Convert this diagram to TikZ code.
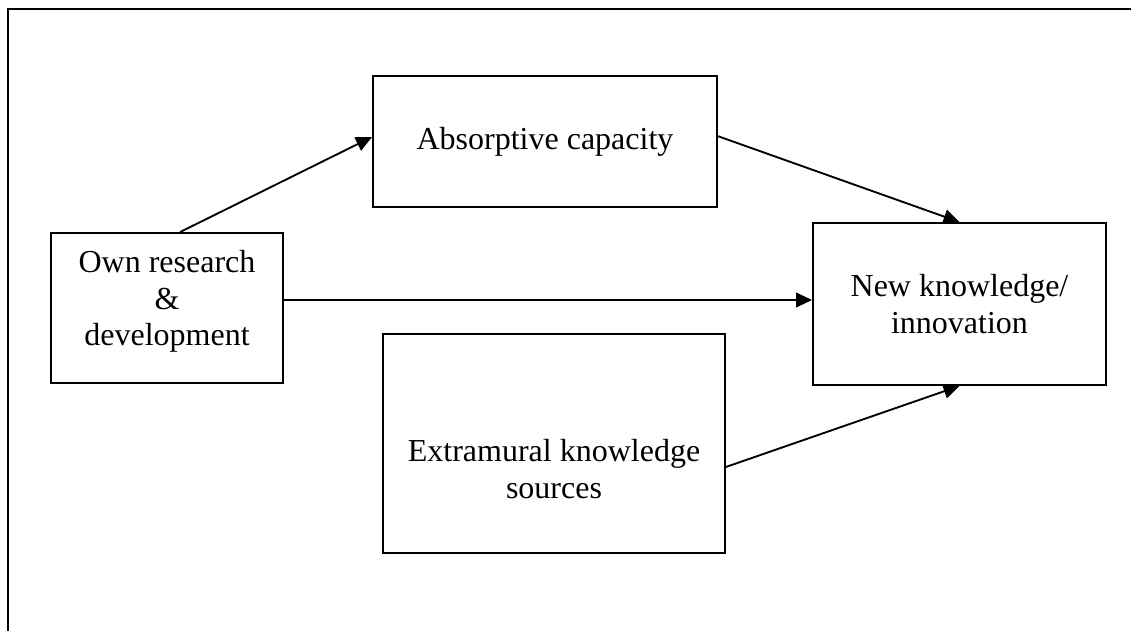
\documentclass[tikz,border=0pt]{standalone}
\usepackage{fontspec}
\setmainfont{Liberation Serif}
\usepackage{tikz}
\usetikzlibrary{arrows.meta}
\usetikzlibrary{positioning}

\begin{document}
\begin{tikzpicture}[x=0.375pt, y=-0.375pt,
    box/.style={draw, line width=0.7pt, align=center, inner sep=0pt,
        font=\fontsize{12pt}{13.8pt}\selectfont},
    flow/.style={line width=0.7pt, -{Triangle[length=6pt, width=5.5pt]}},
    frame/.style={line width=0.9pt}]
    \useasboundingbox (0,0) rectangle (1131,631);
    % page frame (top and left only)
    \draw[frame] (1131,9) -- (8,9) -- (8,631);

    % boxes
    \node[box, minimum width=129pt, minimum height=49.1pt] (absorb) at (545,141.5) {Absorptive capacity};
    \node[box, minimum width=87pt, minimum height=56.25pt, text depth=7.5pt] (own) at (167,308) {Own research\\ \&\\ development};
    \node[box, minimum width=109.9pt, minimum height=60.75pt] (newk) at (959.5,304) {New knowledge/\\ innovation};
    \node[box, minimum width=128.25pt, minimum height=82.1pt, text height=41pt] (extra) at (554,443.5) {Extramural knowledge\\ sources};

    % arrows
    \draw[flow] ([xshift=4.9pt]own.north) -- ([yshift=1.7pt]absorb.west);
    \draw[flow] ([yshift=2pt]absorb.east) -- (newk.north);
    \draw[flow] ([yshift=3pt]own.east) -- ([yshift=1.5pt]newk.west);
    \draw[flow] ([yshift=-8.8pt]extra.east) -- (newk.south);
\end{tikzpicture}
\end{document}
